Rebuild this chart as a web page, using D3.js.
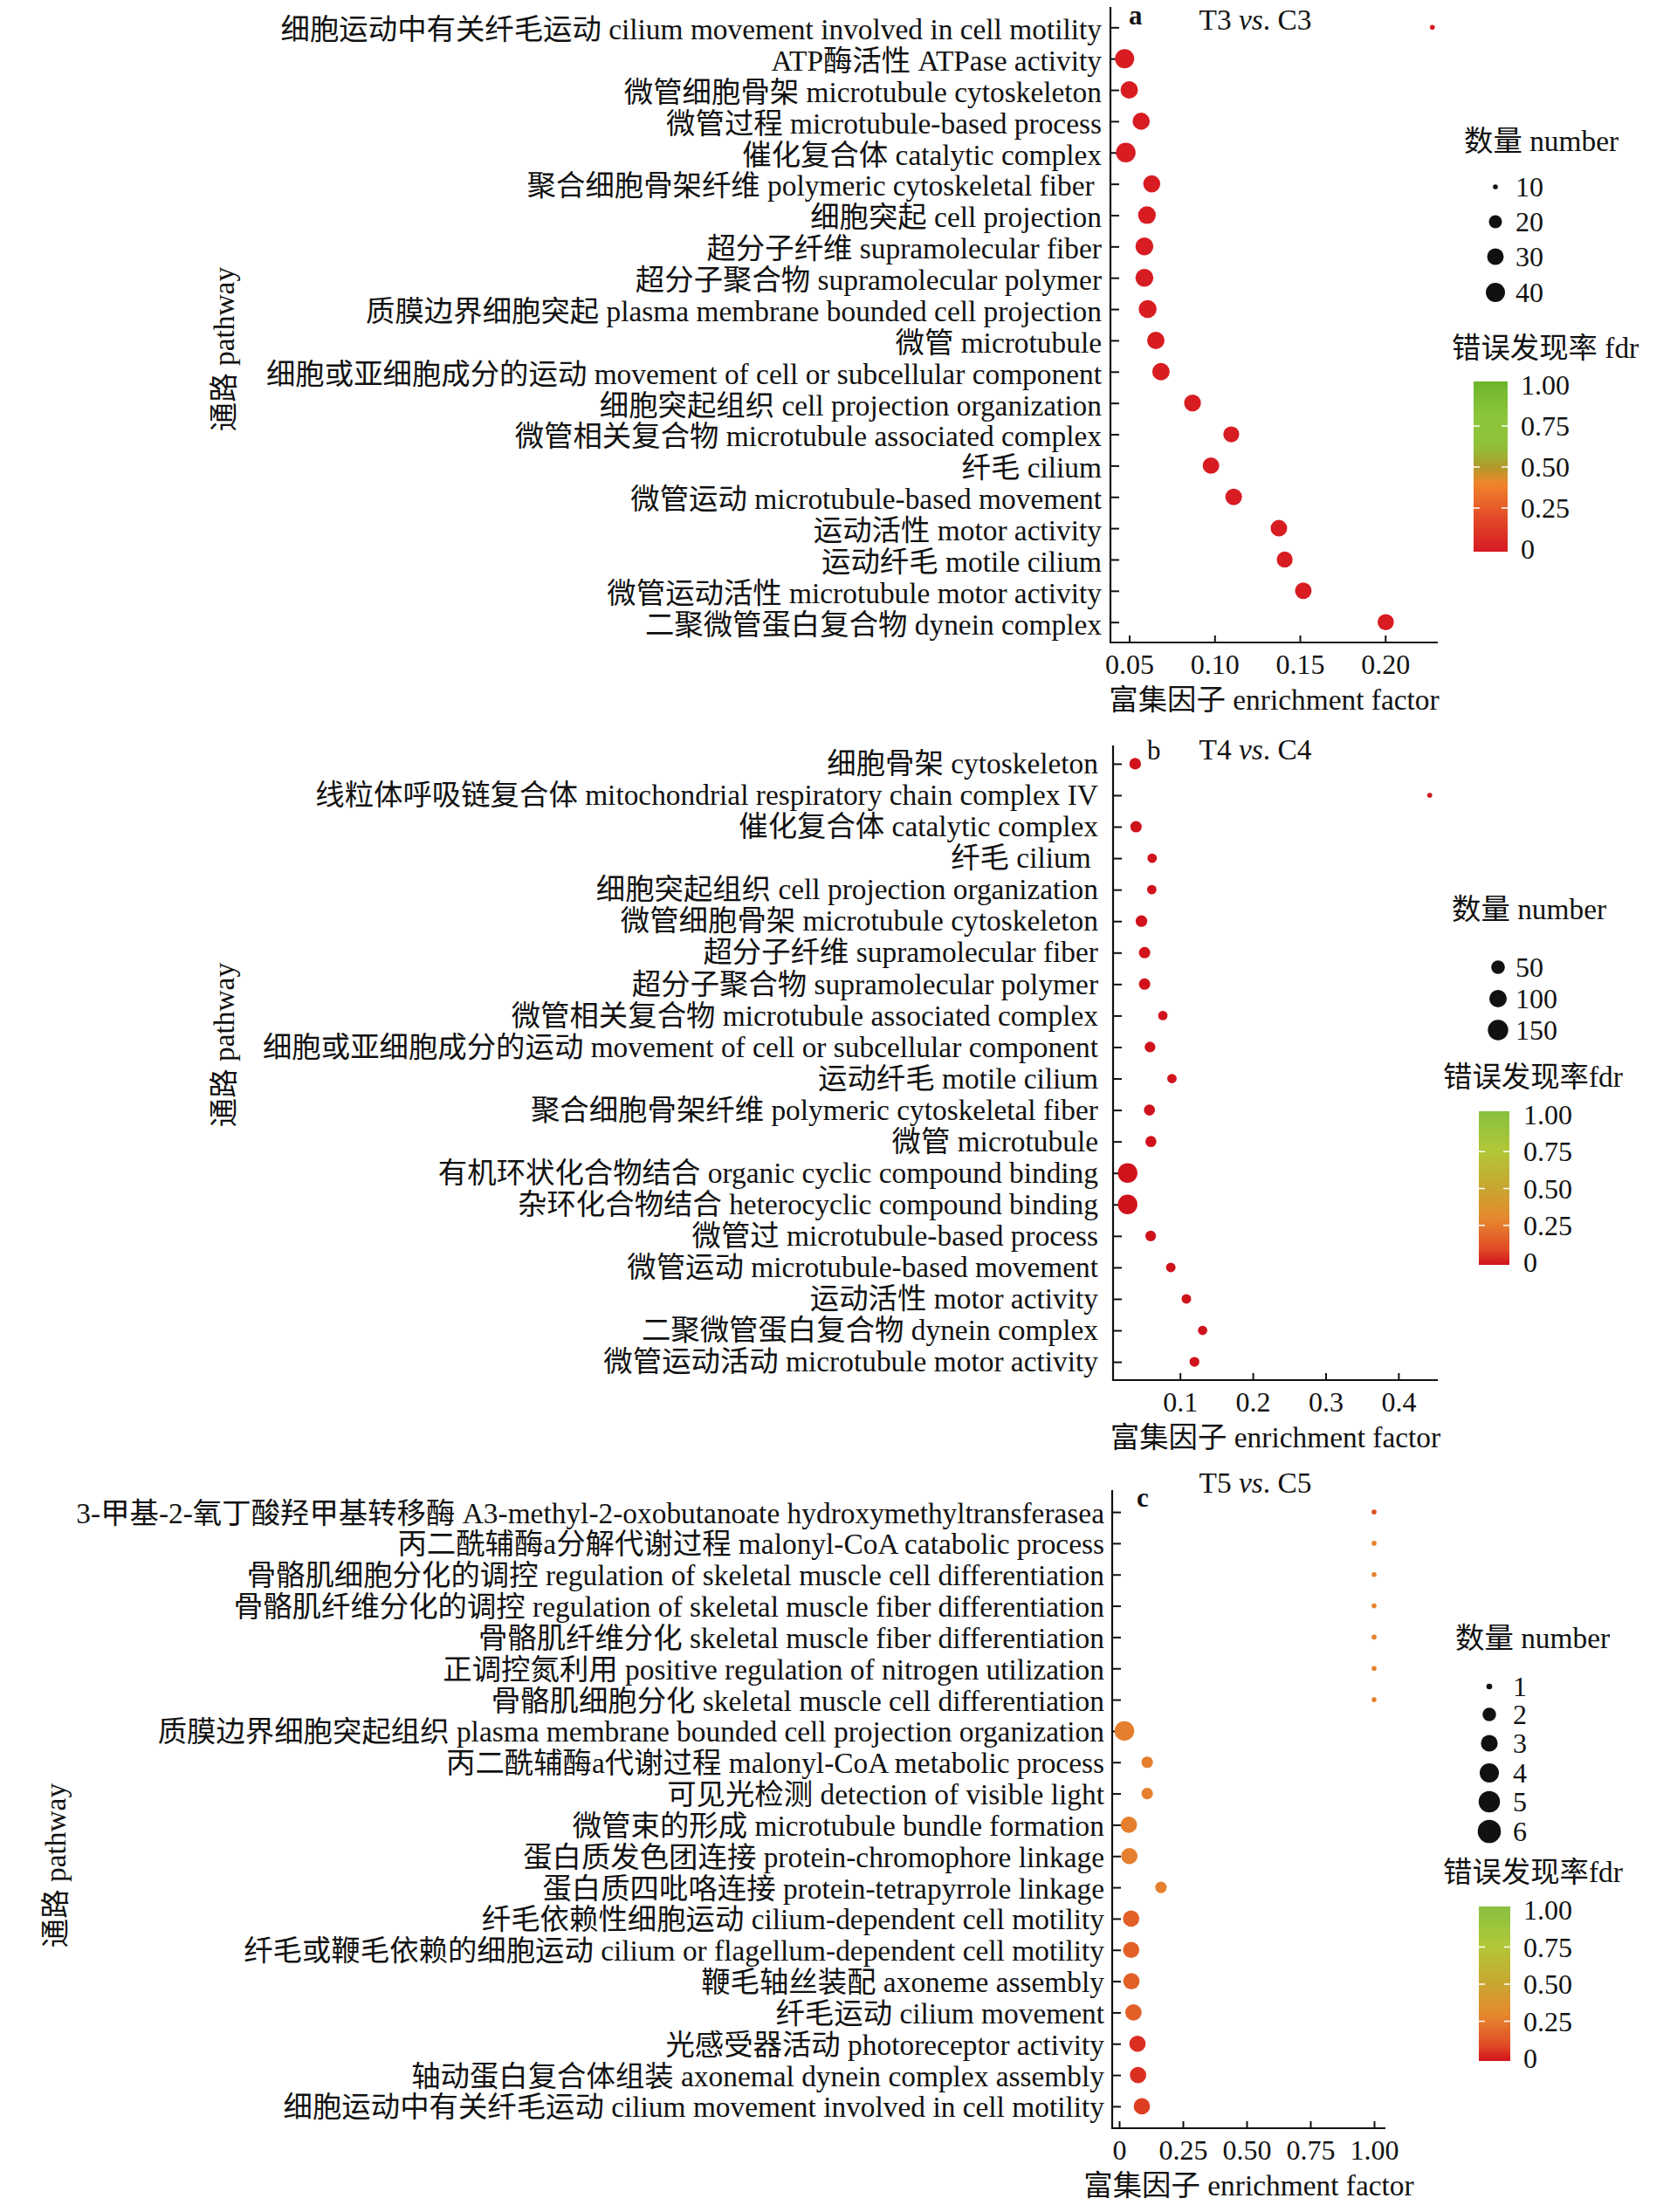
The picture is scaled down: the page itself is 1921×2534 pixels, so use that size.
<!DOCTYPE html>
<html>
<head>
<meta charset="utf-8">
<script src="https://cdn.jsdelivr.net/npm/d3@7/dist/d3.min.js"></script>
<style>
  body { margin: 0; background: #fff; }
  text { font-family: "Liberation Serif", "Noto Sans CJK SC", serif; fill: #111; }
  .lab { white-space: pre; }
</style>
</head>
<body>
<svg id="chart" width="1921" height="2534"></svg>
<script>
// ---- data ----
var termsA = [
  "细胞运动中有关纤毛运动 cilium movement involved in cell motility",
  "ATP酶活性 ATPase activity",
  "微管细胞骨架 microtubule cytoskeleton",
  "微管过程 microtubule-based process",
  "催化复合体 catalytic complex",
  "聚合细胞骨架纤维 polymeric cytoskeletal fiber ",
  "细胞突起 cell projection",
  "超分子纤维 supramolecular fiber",
  "超分子聚合物 supramolecular polymer",
  "质膜边界细胞突起 plasma membrane bounded cell projection",
  "微管 microtubule",
  "细胞或亚细胞成分的运动 movement of cell or subcellular component",
  "细胞突起组织 cell projection organization",
  "微管相关复合物 microtubule associated complex",
  "纤毛 cilium",
  "微管运动 microtubule-based movement",
  "运动活性 motor activity",
  "运动纤毛 motile cilium",
  "微管运动活性 microtubule motor activity",
  "二聚微管蛋白复合物 dynein complex"
];
var factorA = [0.2276, 0.0473, 0.050, 0.057, 0.048, 0.0632, 0.0604, 0.0589, 0.0589, 0.0608,
               0.0656, 0.0686, 0.0871, 0.1098, 0.0979, 0.1112, 0.1377, 0.1411, 0.152, 0.2003];
var countA = [10, 40, 33, 32, 42, 32, 34, 35, 35, 35, 33, 33, 31, 28, 30, 30, 30, 28, 30, 29];
var fdrA = [0.01, 0.01, 0.01, 0.01, 0.01, 0.01, 0.01, 0.01, 0.01, 0.01,
            0.01, 0.01, 0.01, 0.01, 0.01, 0.01, 0.01, 0.01, 0.01, 0.01];

var termsB = [
  "细胞骨架 cytoskeleton",
  "线粒体呼吸链复合体 mitochondrial respiratory chain complex IV",
  "催化复合体 catalytic complex",
  "纤毛 cilium ",
  "细胞突起组织 cell projection organization",
  "微管细胞骨架 microtubule cytoskeleton",
  "超分子纤维 supramolecular fiber",
  "超分子聚合物 supramolecular polymer",
  "微管相关复合物 microtubule associated complex",
  "细胞或亚细胞成分的运动 movement of cell or subcellular component",
  "运动纤毛 motile cilium",
  "聚合细胞骨架纤维 polymeric cytoskeletal fiber",
  "微管 microtubule",
  "有机环状化合物结合 organic cyclic compound binding",
  "杂环化合物结合 heterocyclic compound binding",
  "微管过 microtubule-based process",
  "微管运动 microtubule-based movement",
  "运动活性 motor activity",
  "二聚微管蛋白复合物 dynein complex",
  "微管运动活动 microtubule motor activity"
];
var factorB = [0.0384, 0.443, 0.0396, 0.0617, 0.0612, 0.047, 0.0513, 0.0513, 0.0764, 0.0588,
               0.0889, 0.058, 0.060, 0.028, 0.028, 0.0597, 0.0873, 0.1087, 0.131, 0.1198];
var countB = [36, 5, 34, 19, 19, 36, 34, 34, 19, 28, 19, 31, 31, 155, 153, 28, 20, 20, 19, 22];
var fdrB = [0, 0, 0, 0, 0, 0, 0, 0, 0, 0, 0, 0, 0, 0, 0, 0, 0, 0, 0, 0];

var termsC = [
  "3-甲基-2-氧丁酸羟甲基转移酶 A3-methyl-2-oxobutanoate hydroxymethyltransferasea",
  "丙二酰辅酶a分解代谢过程 malonyl-CoA catabolic process",
  "骨骼肌细胞分化的调控 regulation of skeletal muscle cell differentiation",
  "骨骼肌纤维分化的调控 regulation of skeletal muscle fiber differentiation",
  "骨骼肌纤维分化 skeletal muscle fiber differentiation",
  "正调控氮利用 positive regulation of nitrogen utilization",
  "骨骼肌细胞分化 skeletal muscle cell differentiation",
  "质膜边界细胞突起组织 plasma membrane bounded cell projection organization",
  "丙二酰辅酶a代谢过程 malonyl-CoA metabolic process",
  "可见光检测 detection of visible light",
  "微管束的形成 microtubule bundle formation",
  "蛋白质发色团连接 protein-chromophore linkage",
  "蛋白质四吡咯连接 protein-tetrapyrrole linkage",
  "纤毛依赖性细胞运动 cilium-dependent cell motility",
  "纤毛或鞭毛依赖的细胞运动 cilium or flagellum-dependent cell motility",
  "鞭毛轴丝装配 axoneme assembly",
  "纤毛运动 cilium movement",
  "光感受器活动 photoreceptor activity",
  "轴动蛋白复合体组装 axonemal dynein complex assembly",
  "细胞运动中有关纤毛运动 cilium movement involved in cell motility"
];
var factorC = [1.0, 1.0, 1.0, 1.0, 1.0, 1.0, 1.0, 0.0205, 0.11, 0.11,
               0.038, 0.040, 0.164, 0.047, 0.047, 0.048, 0.056, 0.072, 0.074, 0.089];
var countC = [1, 1, 1, 1, 1, 1, 1, 6, 2, 2, 4, 4, 2, 4, 4, 4, 4, 4, 4, 4];
var fdrC = [0.12, 0.28, 0.28, 0.28, 0.28, 0.28, 0.28, 0.27, 0.27, 0.27,
            0.27, 0.27, 0.27, 0.17, 0.17, 0.17, 0.17, 0.05, 0.05, 0.08];

var factorTicksA = [0.05, 0.10, 0.15, 0.20];
var factorTickLabelsA = ["0.05", "0.10", "0.15", "0.20"];
var factorTicksB = [0.1, 0.2, 0.3, 0.4];
var factorTickLabelsB = ["0.1", "0.2", "0.3", "0.4"];
var factorTicksC = [0, 0.25, 0.5, 0.75, 1.0];
var factorTickLabelsC = ["0", "0.25", "0.50", "0.75", "1.00"];

var countLegendA = [10, 20, 30, 40];
var countLegendB = [50, 100, 150];
var countLegendC = [1, 2, 3, 4, 5, 6];

var fdrTicks = [1, 0.75, 0.5, 0.25, 0];
var fdrTickLabels = ["1.00", "0.75", "0.50", "0.25", "0"];

var titlesPanel = [["T3 ", "vs", ". C3"], ["T4 ", "vs", ". C4"], ["T5 ", "vs", ". C5"]];

// ---- layout / style ----
var panels = [
  {
    terms: termsA, factor: factorA, count: countA, fdr: fdrA,
    ticks: factorTicksA, tickLabels: factorTickLabelsA, legend: countLegendA, legendScale: 1,
    title: titlesPanel[0], letter: "a", letterBold: true,
    x0: 1272, x1: 1647, domain: [0.039, 0.2308], y0: 8, y1: 736, pad: 0.65, labelGap: 10, labelDy: "0.4em",
    titleY: 34, letterX: 1293, letterY: 28,
    yTitle: [256, 400], legendTitle: "数量 number", fdrTitle: "错误发现率 fdr",
    lgX: 1677, lgY: 173, lgDotX: 1713, lgDotY: [214, 254, 294, 335], lgTextX: 1736,
    fdX: 1663, fdY: 410, barX: 1688, barW: 39, barTop: 437, barBot: 632, barLabX: 1742,
    colorStops: [0, 0.2, 0.4, 0.5, 0.62, 0.8, 1],
    colors: ["#d61a22", "#e24a28", "#f0852a", "#b09a2a", "#90c23a", "#8cc63a", "#6cb42b"]
  },
  {
    terms: termsB, factor: factorB, count: countB, fdr: fdrB,
    ticks: factorTicksB, tickLabels: factorTickLabelsB, legend: countLegendB, legendScale: 1.05,
    title: titlesPanel[1], letter: "b", letterBold: false,
    x0: 1275, x1: 1647, domain: [0.008, 0.4541], y0: 854, y1: 1581, pad: 0.58, labelGap: 17, labelDy: "0.32em",
    titleY: 870, letterX: 1314, letterY: 870,
    yTitle: [256, 1197], legendTitle: "数量 number", fdrTitle: "错误发现率fdr",
    lgX: 1663, lgY: 1053, lgDotX: 1716, lgDotY: [1108, 1144, 1180], lgTextX: 1736,
    fdX: 1653, fdY: 1245, barX: 1694, barW: 35, barTop: 1273, barBot: 1449, barLabX: 1745,
    colorStops: [0, 0.1, 0.3, 0.5, 0.75, 1],
    colors: ["#d0121c", "#e04a25", "#e6882e", "#c8a630", "#b0c838", "#88c040"]
  },
  {
    terms: termsC, factor: factorC, count: countC, fdr: fdrC,
    ticks: factorTicksC, tickLabels: factorTickLabelsC, legend: countLegendC, legendScale: 1.18,
    title: titlesPanel[2], letter: "c", letterBold: true,
    x0: 1274, x1: 1587, domain: [-0.0274, 1.0445], y0: 1707, y1: 2438, pad: 0.7, labelGap: 9, labelDy: "0.36em",
    titleY: 1710, letterX: 1302, letterY: 1726,
    yTitle: [63, 2137], legendTitle: "数量 number", fdrTitle: "错误发现率fdr",
    lgX: 1667, lgY: 1888, lgDotX: 1706, lgDotY: [1932, 1964, 1997, 2031, 2064, 2098], lgTextX: 1733,
    fdX: 1653, fdY: 2156, barX: 1694, barW: 36, barTop: 2184, barBot: 2361, barLabX: 1745,
    colorStops: [0, 0.1, 0.3, 0.5, 0.75, 1],
    colors: ["#d4121c", "#e04a25", "#e6882e", "#c8a630", "#b0c838", "#88c040"]
  }
];

var svg = d3.select("#chart");
var defs = svg.append("defs");
var FS = 33.4;

panels.forEach(function (p, pi) {
  var g = svg.append("g");

  var x = d3.scaleLinear().domain(p.domain).range([p.x0, p.x1]);
  var y = d3.scalePoint().domain(p.terms).range([p.y0, p.y1]).padding(p.pad);
  var color = d3.scaleLinear().domain(p.colorStops).range(p.colors).interpolate(d3.interpolateRgb);
  // ggplot-like area size: diameter = k * (1.5 + 4.5 * sqrt(rescaled count))
  var ext = d3.extent(p.count);
  var rescale = d3.scaleLinear().domain(ext).range([0, 1]).clamp(true);
  var diam = d3.scaleSqrt().domain([0, 1]).range([1.5 * 3.75, 6 * 3.75]);
  var size = function (v) { return diam(rescale(v)); };

  // y axis: ticks inside, labels at left
  var yAxis = g.append("g")
    .attr("transform", "translate(" + p.x0 + ",0)")
    .call(d3.axisLeft(y).tickSize(-10).tickSizeOuter(0).tickPadding(p.labelGap));
  yAxis.select(".domain").attr("stroke", "#111").attr("stroke-width", 2.2)
    .attr("d", "M0," + p.y0 + "V" + p.y1);
  yAxis.selectAll(".tick line").attr("stroke", "#111").attr("stroke-width", 2);
  yAxis.selectAll(".tick text").attr("class", "lab").attr("dy", p.labelDy)
    .attr("font-size", FS).attr("font-family", null).attr("fill", "#111");

  // x axis
  var xAxis = g.append("g")
    .attr("transform", "translate(0," + p.y1 + ")")
    .call(d3.axisBottom(x).tickValues(p.ticks).tickSize(-8).tickSizeOuter(0).tickPadding(13)
      .tickFormat(function (d, i) { return p.tickLabels[i]; }));
  xAxis.select(".domain").attr("stroke", "#111").attr("stroke-width", 2.2)
    .attr("d", "M" + (p.x0 - 1) + ",0H" + p.x1);
  xAxis.selectAll(".tick line").attr("stroke", "#111").attr("stroke-width", 2);
  xAxis.selectAll(".tick text").attr("font-size", 32).attr("font-family", null).attr("fill", "#111");

  // points
  g.append("g").selectAll("circle")
    .data(p.terms)
    .join("circle")
    .attr("cx", function (d, i) { return x(p.factor[i]); })
    .attr("cy", function (d) { return y(d); })
    .attr("r", function (d, i) { return size(p.count[i]) / 2; })
    .attr("fill", function (d, i) { return color(p.fdr[i]); });

  // axis titles
  g.append("text")
    .attr("x", (p.x0 + p.x1) / 2).attr("y", p.y1 + 77)
    .attr("text-anchor", "middle").attr("font-size", FS)
    .text("富集因子 enrichment factor");
  g.append("text")
    .attr("transform", "translate(" + p.yTitle[0] + "," + p.yTitle[1] + ") rotate(-90)")
    .attr("text-anchor", "middle").attr("dominant-baseline", "central").attr("font-size", FS)
    .text("通路 pathway");

  // panel title and letter
  var t = g.append("text").attr("x", 1438).attr("y", p.titleY)
    .attr("text-anchor", "middle").attr("font-size", FS);
  t.append("tspan").text(p.title[0]);
  t.append("tspan").attr("font-style", "italic").text(p.title[1]);
  t.append("tspan").text(p.title[2]);
  g.append("text").attr("x", p.letterX).attr("y", p.letterY)
    .attr("font-size", 31).attr("font-weight", p.letterBold ? "bold" : "normal")
    .text(p.letter);

  // size legend
  g.append("text").attr("x", p.lgX).attr("y", p.lgY).attr("font-size", FS).text(p.legendTitle);
  p.legend.forEach(function (v, i) {
    g.append("circle").attr("cx", p.lgDotX).attr("cy", p.lgDotY[i])
      .attr("r", size(v) * p.legendScale / 2).attr("fill", "#111");
    g.append("text").attr("x", p.lgTextX).attr("y", p.lgDotY[i])
      .attr("dominant-baseline", "central").attr("font-size", 32).text(v);
  });

  // colour bar legend
  g.append("text").attr("x", p.fdX).attr("y", p.fdY).attr("font-size", FS).text(p.fdrTitle);
  var gid = "grad" + pi;
  var grad = defs.append("linearGradient").attr("id", gid)
    .attr("x1", 0).attr("y1", 1).attr("x2", 0).attr("y2", 0);
  d3.range(0, 1.0001, 0.05).forEach(function (s) {
    grad.append("stop").attr("offset", s).attr("stop-color", color(s));
  });
  var fy = d3.scaleLinear().domain([0, 1]).range([p.barBot - 3, p.barTop + 4]);
  g.append("rect").attr("x", p.barX).attr("y", p.barTop)
    .attr("width", p.barW).attr("height", p.barBot - p.barTop)
    .attr("fill", "url(#" + gid + ")");
  [0.25, 0.5, 0.75].forEach(function (v) {
    g.append("line").attr("x1", p.barX).attr("x2", p.barX + 7)
      .attr("y1", fy(v)).attr("y2", fy(v)).attr("stroke", "#fff").attr("stroke-width", 1.5);
    g.append("line").attr("x1", p.barX + p.barW - 7).attr("x2", p.barX + p.barW)
      .attr("y1", fy(v)).attr("y2", fy(v)).attr("stroke", "#fff").attr("stroke-width", 1.5);
  });
  fdrTicks.forEach(function (v, i) {
    g.append("text").attr("x", p.barLabX).attr("y", fy(v))
      .attr("dominant-baseline", "central").attr("font-size", 32).text(fdrTickLabels[i]);
  });
});
</script>
</body>
</html>
